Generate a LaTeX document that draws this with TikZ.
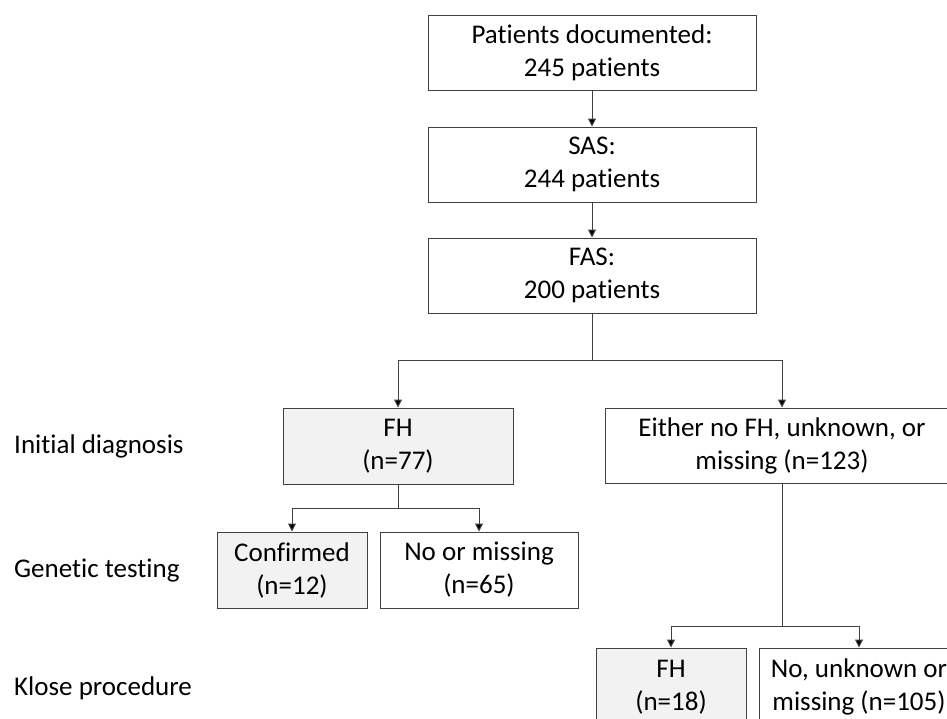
\documentclass[tikz,border=0pt]{standalone}
\usepackage{fontspec}
\setmainfont[Ligatures=NoCommon]{Carlito}
\usepackage{tikz}
\usetikzlibrary{shapes,arrows,arrows.meta,positioning}
\definecolor{linegray}{HTML}{404040}
\definecolor{boxgray}{HTML}{F2F2F2}
\tikzstyle{box} = [draw=linegray, line width=1pt, align=center, inner sep=0pt, font=\fontsize{27}{33}\selectfont]
\tikzstyle{fhbox} = [box, fill=boxgray]
\tikzstyle{stage} = [anchor=west, inner sep=0pt, font=\fontsize{27}{33}\selectfont]
\tikzstyle{link} = [draw=linegray, line width=1pt, -{Triangle[width=8pt,length=8pt,fill=black]}]

\begin{document}
\begin{tikzpicture}[x=1pt, y=-1pt]
\useasboundingbox (0,0) rectangle (947,718);
\node[box, minimum width=328, minimum height=75] (documented) at (592,52.5) {Patients documented:\\245 patients};
\node[box, minimum width=328, minimum height=75] (sas) at (592,164.5) {SAS:\\244 patients};
\node[box, minimum width=328, minimum height=75] (fas) at (592,275.5) {FAS:\\200 patients};
\node[fhbox, minimum width=230, minimum height=76] (fh) at (398,446) {FH\\(n=77)};
\node[box, minimum width=354, minimum height=75] (other) at (782,445.5) {Either no FH, unknown, or\\missing (n=123)};
\node[fhbox, minimum width=150, minimum height=76] (confirmed) at (292,570) {Confirmed\\(n=12)};
\node[box, minimum width=198, minimum height=76] (nogenetic) at (479,570) {No or missing\\(n=65)};
\node[fhbox, minimum width=150, minimum height=78] (klosefh) at (671,687) {FH\\(n=18)};
\node[box, minimum width=200, minimum height=78] (klosenot) at (859,687) {No, unknown or\\missing (n=105)};
\node[stage] (initial) at (14,446) {Initial diagnosis};
\node[stage] (genetic) at (14,571) {Genetic testing};
\node[stage] (klose) at (14,688) {Klose procedure};
\coordinate (splitfas) at (592,360);
\coordinate (splitfh) at (398,508);
\coordinate (splitother) at (782,626);
\draw[link] (documented) -- (sas);
\draw[link] (sas) -- (fas);
\draw[draw=linegray, line width=1pt] (fas) -- (splitfas);
\draw[link] (splitfas) -| (fh);
\draw[link] (splitfas) -| (other);
\draw[draw=linegray, line width=1pt] (fh) -- (splitfh);
\draw[link] (splitfh) -| (confirmed);
\draw[link] (splitfh) -| (nogenetic);
\draw[draw=linegray, line width=1pt] (other) -- (splitother);
\draw[link] (splitother) -| (klosefh);
\draw[link] (splitother) -| (klosenot);
\end{tikzpicture}
\end{document}
